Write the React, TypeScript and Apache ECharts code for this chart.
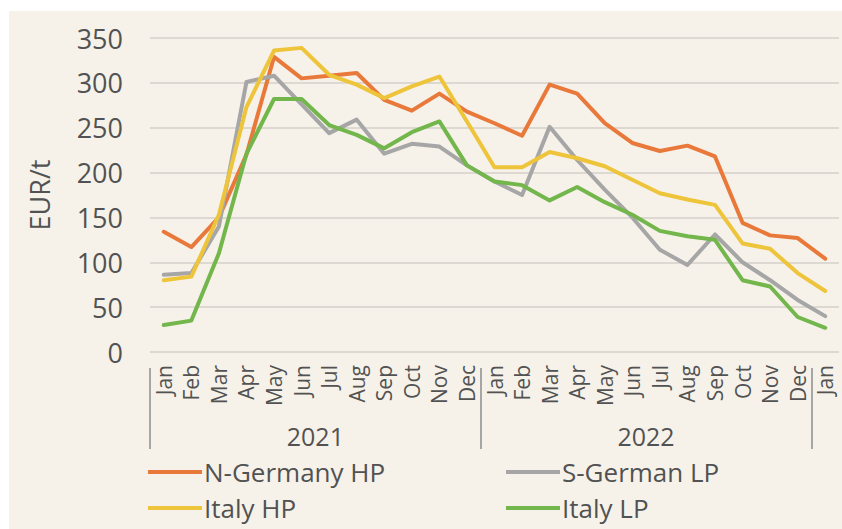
import React, { useEffect, useRef } from "react";
import * as echarts from "echarts";

const months = [
  "Jan", "Feb", "Mar", "Apr", "May", "Jun", "Jul", "Aug", "Sep", "Oct", "Nov", "Dec",
  "Jan", "Feb", "Mar", "Apr", "May", "Jun", "Jul", "Aug", "Sep", "Oct", "Nov", "Dec",
  "Jan",
];
const yearGroups = ["2021", "2022", ""];
const yearGroupSizes = [12, 12, 1];

const nGermanyHP = [134, 117, 150, 220, 329, 305, 308, 311, 281, 269, 288, 268, 255, 241, 298, 288, 255, 233, 224, 230, 218, 144, 130, 127, 104];
const sGermanLP = [86, 88, 140, 301, 308, 276, 244, 259, 221, 232, 229, 208, 190, 175, 251, 214, 181, 150, 114, 97, 131, 100, 80, 58, 40];
const italyHP = [80, 84, 153, 273, 336, 339, 309, 298, 283, 296, 307, 257, 206, 206, 223, 216, 207, 192, 177, 170, 164, 121, 115, 88, 68];
const italyLP = [30, 35, 110, 221, 282, 282, 253, 242, 227, 245, 257, 208, 190, 186, 169, 184, 167, 153, 135, 129, 125, 80, 73, 39, 27];

const seriesNames = ["N-Germany HP", "S-German LP", "Italy HP", "Italy LP"];
const seriesColors = ["#E9793A", "#A6A6A6", "#EEC43A", "#73B64B"];

const FONT = "'Open Sans', 'Noto Sans', sans-serif";
const TEXT = "#525252";

export default function App() {
  const ref = useRef<HTMLDivElement>(null);

  useEffect(() => {
    if (!ref.current) return;
    const chart = echarts.init(ref.current, undefined, { renderer: "svg" });

    // group boundaries and centres on the category index scale
    const boundaries: number[] = [];
    const centres: number[] = [];
    const centreNames: Record<string, string> = {};
    let start = 0;
    yearGroupSizes.forEach((n, i) => {
      boundaries.push(start - 0.5);
      if (yearGroups[i]) {
        const c = start + (n - 1) / 2;
        centres.push(c);
        centreNames[String(c)] = yearGroups[i];
      }
      start += n;
    });

    const data = [nGermanyHP, sGermanLP, italyHP, italyLP];

    const legendPos = [
      { left: 148, top: 459 },
      { left: 506, top: 459 },
      { left: 148, top: 495 },
      { left: 506, top: 495 },
    ];

    chart.setOption({
      animation: false,
      backgroundColor: "transparent",
      textStyle: { fontFamily: FONT },
      grid: { left: 150, right: 3, top: 38, bottom: 177, containLabel: false },
      legend: seriesNames.map((name, i) => ({
        data: [name],
        left: legendPos[i].left,
        top: legendPos[i].top,
        icon: "rect",
        itemWidth: 54,
        itemHeight: 4,
        itemGap: 0,
        padding: 0,
        textStyle: { fontSize: 26, color: TEXT, fontFamily: FONT, padding: [0, 0, 0, -3] },
      })),
      xAxis: [
        {
          type: "category",
          data: months,
          boundaryGap: true,
          axisLine: { show: false },
          axisTick: { show: false },
          axisLabel: {
            rotate: 90,
            fontSize: 21,
            color: TEXT,
            fontFamily: FONT,
            margin: 13,
            interval: 0,
          },
          splitLine: { show: false },
        },
        {
          type: "value",
          position: "bottom",
          min: -0.5,
          max: months.length - 0.5,
          offset: 16,
          axisLine: { show: false },
          splitLine: { show: false },
          axisTick: {
            show: true,
            customValues: boundaries,
            length: 81,
            lineStyle: { color: "#A6A6A6", width: 2 },
          },
          axisLabel: {
            customValues: centres,
            formatter: (v: number) => centreNames[String(v)] || "",
            fontSize: 25,
            color: TEXT,
            fontFamily: FONT,
            margin: 55,
          },
        },
      ],
      yAxis: {
        type: "value",
        min: 0,
        max: 350,
        interval: 50,
        name: "EUR/t",
        nameLocation: "middle",
        nameGap: 97,
        nameRotate: 90,
        nameTextStyle: { fontSize: 27, color: TEXT, fontFamily: FONT },
        axisLine: { show: false },
        axisTick: { show: false },
        axisLabel: { fontSize: 27, color: TEXT, fontFamily: FONT, margin: 27 },
        splitLine: { lineStyle: { color: "#DDD9D2", width: 2 } },
      },
      series: seriesNames.map((name, i) => ({
        name,
        type: "line",
        xAxisIndex: 0,
        data: data[i],
        symbol: "none",
        smooth: false,
        color: seriesColors[i],
        lineStyle: { width: 4, color: seriesColors[i], join: "round", cap: "round" },
      })),
    });

    return () => chart.dispose();
  }, []);

  return (
    <div style={{ position: "absolute", left: 0, top: 0, width: 842, height: 529, background: "#FFFFFF" }}>
      <div style={{ position: "absolute", left: 9, top: 11, right: 0, bottom: 0, background: "#F6F2EA" }} />
      <div ref={ref} style={{ position: "absolute", left: 0, top: 0, width: 842, height: 529 }} />
    </div>
  );
}
